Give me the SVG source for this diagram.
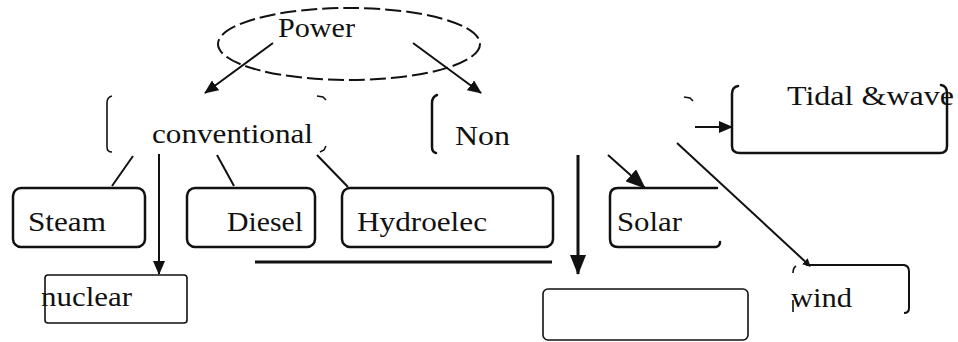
<svg xmlns="http://www.w3.org/2000/svg" width="958" height="342" viewBox="0 0 958 342">
<style>
text{font-family:"Liberation Serif","Times New Roman",serif;font-size:27px;fill:#111}
.box{fill:none;stroke:#111;stroke-width:2.5;stroke-linecap:round}
.thin{fill:none;stroke:#111;stroke-width:1.6}
.edge{fill:none;stroke:#111;stroke-width:2}
</style>
<defs>
<marker id="ah" markerUnits="userSpaceOnUse" markerWidth="14" markerHeight="12" refX="13" refY="6" orient="auto">
<path d="M0,0 L14,6 L0,12 Z" fill="#111"/>
</marker>
<marker id="ahl" markerUnits="userSpaceOnUse" markerWidth="20" markerHeight="16" refX="19" refY="8" orient="auto">
<path d="M0,0 L20,8 L0,16 Z" fill="#111"/>
</marker>
<marker id="ahs" markerUnits="userSpaceOnUse" markerWidth="8" markerHeight="8" refX="7" refY="4" orient="auto">
<path d="M0,0 L8,4 L0,8 Z" fill="#111"/>
</marker>
</defs>

<g id="connectors">
<line class="edge" x1="273" y1="43" x2="205" y2="93" marker-end="url(#ah)"/>
<line class="edge" x1="413" y1="43" x2="481" y2="93" marker-end="url(#ah)"/>
<line class="edge" x1="133" y1="156" x2="112" y2="186"/>
<line class="edge" x1="159" y1="154" x2="159" y2="274" marker-end="url(#ah)"/>
<line class="edge" x1="217" y1="155" x2="234" y2="186"/>
<line class="edge" x1="317" y1="155" x2="348" y2="187"/>
<line x1="255" y1="262" x2="552" y2="262" stroke="#111" stroke-width="3"/>
<line x1="578" y1="155" x2="578" y2="274" stroke="#111" stroke-width="3" marker-end="url(#ahl)"/>
<line class="edge" x1="608" y1="155" x2="645" y2="188" marker-end="url(#ahl)"/>
<line class="edge" x1="695" y1="127" x2="732" y2="127" marker-end="url(#ah)"/>
<line class="edge" x1="677" y1="143" x2="810" y2="266" marker-end="url(#ahs)"/>
</g>

<g id="power">
<ellipse cx="349" cy="44" rx="131" ry="36" fill="none" stroke="#111" stroke-width="2" stroke-dasharray="16 5"/>
<text x="278" y="37" textLength="77" lengthAdjust="spacingAndGlyphs">Power</text>
</g>

<g id="conventional">
<path class="thin" d="M112,96 Q107,97 107,103 L107,147 Q107,152 112,152"/>
<path class="thin" d="M317,96 L323,97 L326,100"/>
<path class="thin" d="M326,146 L324,150 L320,152"/>
<text x="152" y="143" textLength="161" lengthAdjust="spacingAndGlyphs">conventional</text>
</g>

<g id="non">
<path class="box" d="M437,95 Q432,97 432,103 L432,147 Q432,152 436,153"/>
<path class="thin" d="M684,97 L690,98 L693,101"/>
<text x="455" y="145" textLength="55" lengthAdjust="spacingAndGlyphs">Non</text>
</g>

<g id="tidal">
<path class="box" d="M738,86 Q732,87 732,94 L732,146 Q732,153 740,153 L940,153 Q947,153 947,146 L947,93 Q947,86 941,85"/>
<text x="787" y="105" textLength="167" lengthAdjust="spacingAndGlyphs">Tidal &amp;wave</text>
</g>

<g id="steam">
<rect class="box" x="13" y="188" width="132" height="59" rx="8"/>
<text x="28" y="231" textLength="78" lengthAdjust="spacingAndGlyphs">Steam</text>
</g>

<g id="diesel">
<rect class="box" x="187" y="188" width="128" height="59" rx="8"/>
<text x="227" y="231" textLength="76" lengthAdjust="spacingAndGlyphs">Diesel</text>
</g>

<g id="hydroelec">
<rect class="box" x="342" y="188" width="211" height="59" rx="8"/>
<text x="357" y="231" textLength="130" lengthAdjust="spacingAndGlyphs">Hydroelec</text>
</g>

<g id="solar">
<path class="box" d="M717,188 L618,188 Q610,188 610,196 L610,239 Q610,247 618,247 L716,247 Q720,246 720,242"/>
<text x="617" y="231" textLength="65" lengthAdjust="spacingAndGlyphs">Solar</text>
</g>

<g id="nuclear">
<rect class="thin" x="45" y="275" width="142" height="48" rx="3" stroke-width="2"/>
<text x="41" y="306" textLength="91" lengthAdjust="spacingAndGlyphs">nuclear</text>
</g>

<g id="blank">
<rect class="thin" x="543" y="289" width="205" height="51" rx="5"/>
</g>

<g id="wind">
<path class="edge" d="M806,265 L904,265 Q909,266 909,271 L909,308 Q909,313 904,313"/>
<path class="thin" d="M796,266 Q793,268 793,273"/>
<path class="thin" d="M793,300 L793,312"/>
<text x="791" y="307" textLength="61" lengthAdjust="spacingAndGlyphs">wind</text>
</g>
</svg>
